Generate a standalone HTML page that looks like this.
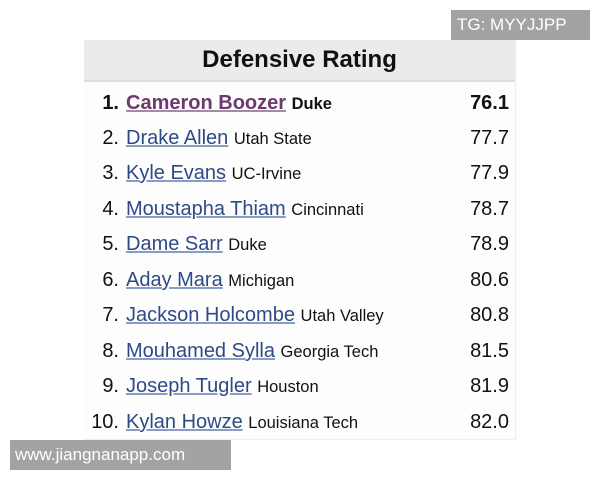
<!DOCTYPE html>
<html><head><style>
body{margin:0;width:600px;height:480px;background:#fff;position:relative;overflow:hidden;font-family:"Liberation Sans",Arial,sans-serif}
.box{position:absolute;left:84px;top:40px;width:431px;height:399px;background:#fdfdfd;border-right:1px solid #eee;border-bottom:1px solid #eee}
.hd{height:40px;background:#ebebeb;border-bottom:2px solid #ddd;text-align:center;font-weight:bold;font-size:24px;line-height:40px;color:#111}
.row{position:absolute;left:0;width:431px;height:30px;line-height:30px;font-size:20px;color:#111}
.rk{position:absolute;right:396px;}
.nm{position:absolute;left:42px;white-space:nowrap}
.nm a{color:#2e4a86;text-decoration:underline;text-decoration-color:#8a9bc4}
.nm span{font-size:16.5px;color:#111}
.v{position:absolute;right:6px}
.b{font-weight:bold}
.tg{position:absolute;left:451px;top:10px;width:139px;height:30px;background:#a3a3a3;color:#fff;font-size:17px;line-height:30px;text-indent:6px}
.ww{position:absolute;left:10px;top:440px;width:221px;height:30px;background:#a3a3a3;color:#fff;font-size:17px;line-height:30px;text-indent:5px}
</style></head><body>
<div class="tg">TG: MYYJJPP</div>
<div class="box">
<div class="hd">Defensive Rating</div>
<div class="row b" style="top:48px"><span class="rk">1.</span><span class="nm"><a style="color:#6b3a6e;text-decoration-color:#a58aa8">Cameron Boozer</a> <span>Duke</span></span><span class="v">76.1</span></div>
<div class="row" style="top:83px"><span class="rk">2.</span><span class="nm"><a>Drake Allen</a> <span>Utah State</span></span><span class="v">77.7</span></div>
<div class="row" style="top:118px"><span class="rk">3.</span><span class="nm"><a>Kyle Evans</a> <span>UC-Irvine</span></span><span class="v">77.9</span></div>
<div class="row" style="top:154px"><span class="rk">4.</span><span class="nm"><a>Moustapha Thiam</a> <span>Cincinnati</span></span><span class="v">78.7</span></div>
<div class="row" style="top:189px"><span class="rk">5.</span><span class="nm"><a>Dame Sarr</a> <span>Duke</span></span><span class="v">78.9</span></div>
<div class="row" style="top:225px"><span class="rk">6.</span><span class="nm"><a>Aday Mara</a> <span>Michigan</span></span><span class="v">80.6</span></div>
<div class="row" style="top:260px"><span class="rk">7.</span><span class="nm"><a>Jackson Holcombe</a> <span>Utah Valley</span></span><span class="v">80.8</span></div>
<div class="row" style="top:296px"><span class="rk">8.</span><span class="nm"><a>Mouhamed Sylla</a> <span>Georgia Tech</span></span><span class="v">81.5</span></div>
<div class="row" style="top:331px"><span class="rk">9.</span><span class="nm"><a>Joseph Tugler</a> <span>Houston</span></span><span class="v">81.9</span></div>
<div class="row" style="top:367px"><span class="rk">10.</span><span class="nm"><a>Kylan Howze</a> <span>Louisiana Tech</span></span><span class="v">82.0</span></div>
</div>
<div class="ww">www.jiangnanapp.com</div>
</body></html>
